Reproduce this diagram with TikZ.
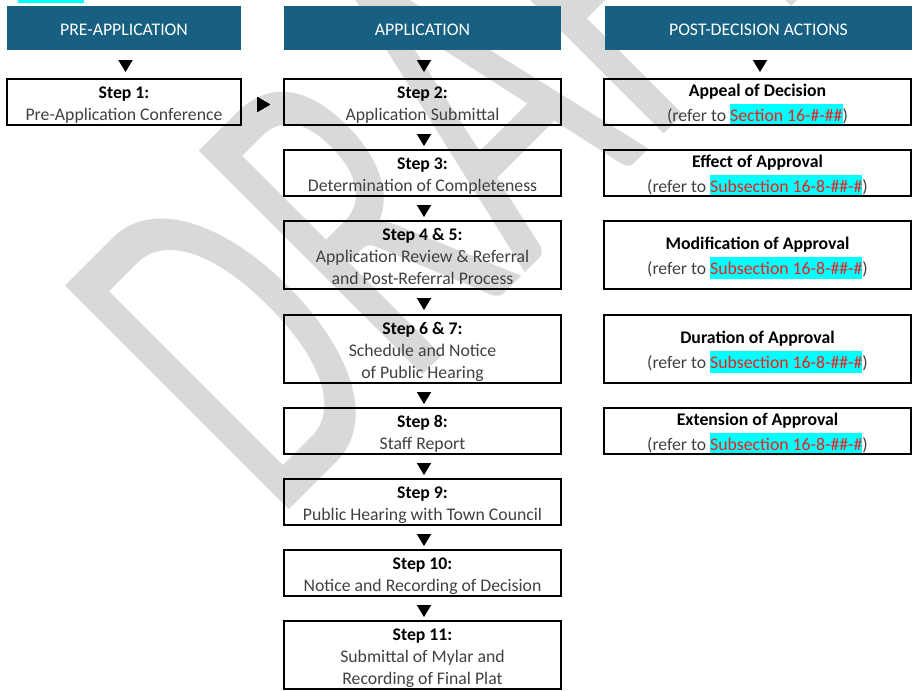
\documentclass[tikz,border=0pt]{standalone}
\usepackage{fontspec}
\setmainfont{Carlito}
\usetikzlibrary{calc}

\definecolor{hdrblue}{RGB}{23,96,130}
\definecolor{bodygray}{RGB}{64,64,64}
\definecolor{hlcyan}{RGB}{0,255,255}
\definecolor{refred}{RGB}{240,30,30}
\definecolor{wmgray}{RGB}{217,217,217}

% highlighted cross-reference
\newcommand\hl[1]{{\setlength\fboxsep{0pt}\colorbox{hlcyan}{\rule[-3.5pt]{0pt}{16.7pt}\textcolor{refred}{#1}}}}
% centred stack of lines inside a box
\newcommand\boxlines[1]{\raisebox{-1.95pt}[\height][\depth]{\begin{tabular}{@{}c@{}}#1\end{tabular}}}
\newcommand\ttl[1]{\textcolor{black}{\textbf{#1}}}
% small downward marker below a node
\newcommand\downmark[2]{\fill ($(#1.south)+(1.5,#2)$) -- ++(-7.25,0) -- ++(7.25,12) -- ++(7.25,-12) -- cycle;}

\begin{document}
\begin{tikzpicture}[x=0.75pt,y=-0.75pt,
  every node/.style={inner sep=0pt, outer sep=0pt},
  basefont/.style={font=\fontsize{13.3pt}{16.5pt}\selectfont},
  hdr/.style={basefont, fill=hdrblue, text=white, minimum height=33pt},
  stepbox/.style={basefont, draw=black, line width=1pt, text=bodygray, minimum height=34.5pt},
  tallbox/.style={stepbox, minimum height=51pt},
  colA/.style={minimum width=175.5pt},
  colB/.style={minimum width=207.75pt},
  colC/.style={minimum width=230.25pt},
  wm/.style={text=wmgray, font=\fontsize{370pt}{370pt}\selectfont}
]
\useasboundingbox (0,0) rectangle (915,690);

% watermark, condensed and set on the diagonal
\begin{scope}[shift={(274,524)}, rotate=45, xscale=0.62]
  \node[wm, transform shape, anchor=base west] (wm) at (0,0) {DRAFT};
\end{scope}

\fill[hlcyan] (18,0) rectangle (84,2.7);

% column headers
\node[hdr, colA] (h1) at (124,28) {\raisebox{-1.05pt}[\height][\depth]{PRE-APPLICATION}};
\node[hdr, colB] (h2) at (422.5,28) {\raisebox{-1.05pt}[\height][\depth]{APPLICATION}};
\node[hdr, colC] (h3) at (758.5,28) {\raisebox{-1.05pt}[\height][\depth]{POST-DECISION ACTIONS}};

% pre-application
\node[stepbox, colA] (n1) at (124,102) {\boxlines{\ttl{Step 1:}\\Pre-Application Conference}};

% application steps
\node[stepbox, colB] (s2) at (422.5,102) {\boxlines{\ttl{Step 2:}\\Application Submittal}};
\node[stepbox, colB] (s3) at (422.5,173) {\boxlines{\ttl{Step 3:}\\Determination of Completeness}};
\node[tallbox, colB] (s45) at (422.5,255) {\boxlines{\ttl{Step 4 \& 5:}\\Application Review \& Referral\\and Post-Referral Process}};
\node[tallbox, colB] (s67) at (422.5,349) {\boxlines{\ttl{Step 6 \& 7:}\\Schedule and Notice\\of Public Hearing}};
\node[stepbox, colB] (s8) at (422.5,431) {\boxlines{\ttl{Step 8:}\\Staff Report}};
\node[stepbox, colB] (s9) at (422.5,502) {\boxlines{\ttl{Step 9:}\\Public Hearing with Town Council}};
\node[stepbox, colB] (s10) at (422.5,573) {\boxlines{\ttl{Step 10:}\\Notice and Recording of Decision}};
\node[tallbox, colB] (s11) at (422.5,655) {\boxlines{\ttl{Step 11:}\\Submittal of Mylar and\\Recording of Final Plat}};

% post-decision actions
\node[stepbox, colC] (a1) at (757.5,102) {\boxlines{\ttl{Appeal of Decision}\\(refer to \hl{Section 16-\#-\#\#})}};
\node[stepbox, colC] (a2) at (757.5,173) {\boxlines{\ttl{Effect of Approval}\\(refer to \hl{Subsection 16-8-\#\#-\#})}};
\node[tallbox, colC] (a3) at (757.5,255) {\boxlines{\ttl{Modification of Approval}\\(refer to \hl{Subsection 16-8-\#\#-\#})}};
\node[tallbox, colC] (a4) at (757.5,349) {\boxlines{\ttl{Duration of Approval}\\(refer to \hl{Subsection 16-8-\#\#-\#})}};
\node[stepbox, colC] (a5) at (757.5,431) {\boxlines{\ttl{Extension of Approval}\\(refer to \hl{Subsection 16-8-\#\#-\#})}};

% heavier lower edge of every box
\foreach \b in {n1,s2,s3,s45,s67,s8,s9,s10,s11,a1,a2,a3,a4,a5}
  \draw[line width=1.6pt] (\b.south west) -- (\b.south east);

% flow markers
\downmark{h1}{10}
\downmark{h2}{10}
\downmark{h3}{10}
\foreach \b in {s2,s3,s45,s67,s8,s9,s10}
  \downmark{\b}{9}
\fill ($(n1.east)+(16,-5)$) -- ++(0,15) -- ++(13,-7.5) -- cycle;

\end{tikzpicture}
\end{document}
